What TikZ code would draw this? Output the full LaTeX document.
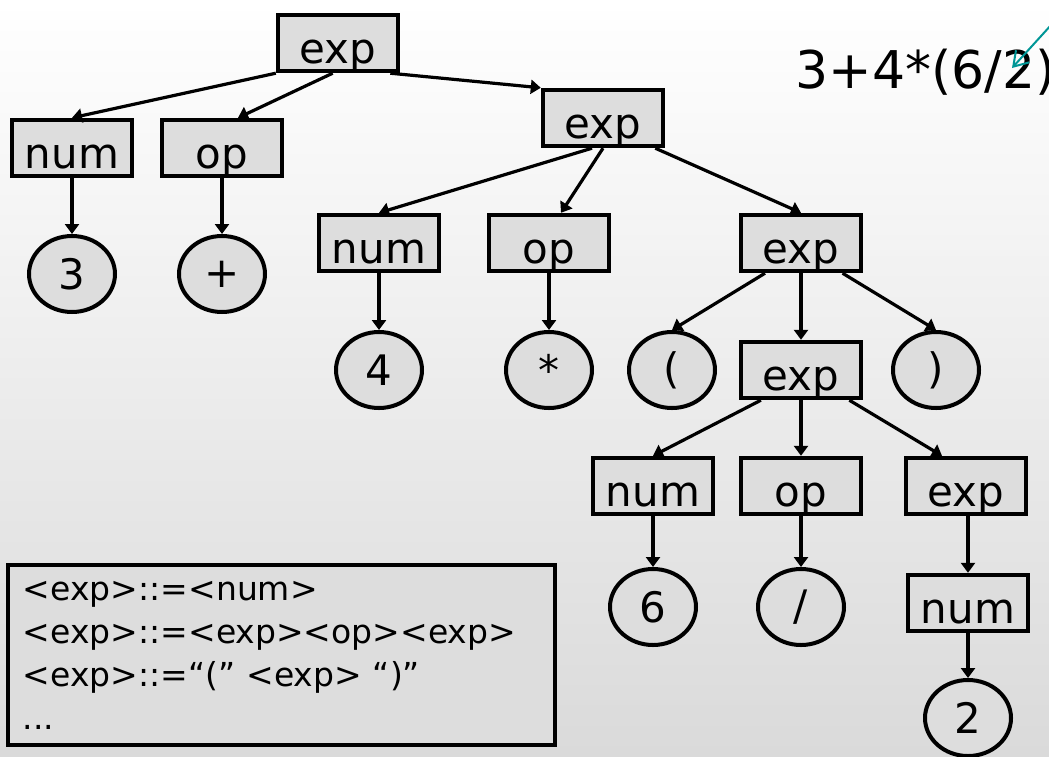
\documentclass[tikz,border=0pt]{standalone}
\usepackage{fontspec}
\setmainfont{DejaVu Sans}
\usetikzlibrary{arrows.meta,shapes.geometric}
\usepackage{xcolor}
\definecolor{ptfill}{RGB}{221,221,221}
\definecolor{ptbg}{RGB}{218,218,218}
\definecolor{ptcyan}{RGB}{0,150,150}

\begin{document}
\begin{tikzpicture}[
  x=0.5pt, y=-0.5pt,
  box/.style={draw=black, fill=ptfill, line width=2.2pt, inner sep=0pt,
    minimum width=60pt, minimum height=28pt, text height=20pt, text depth=0pt,
    font=\fontsize{21}{25}\selectfont},
  leaf/.style={ellipse, draw=black, fill=ptfill, line width=2pt, inner sep=0pt,
    minimum width=43pt, minimum height=38pt, font=\fontsize{21}{25}\selectfont},
  arr/.style={-{Triangle[length=5pt,width=7pt]}, line width=1.6pt},
  gram/.style={draw=black, fill=ptfill, line width=2.2pt, align=left,
    text width=258.5pt, inner xsep=7.5pt, minimum height=90pt,
    font=\fontsize{16.5}{21.5}\selectfont},
  expr/.style={font=\fontsize{26}{30}\selectfont, inner sep=0pt},
  pointer/.style={-{Straight Barb[length=7pt,width=9pt]}, ptcyan, line width=1pt}
]
\useasboundingbox (0,0) rectangle (1049,756);
\clip (0,0) rectangle (1049,756);
\shade[top color=white, bottom color=ptbg] (0,0) rectangle (1049,756);

% parse tree, top down
\node[box] (root) at (338,43) {exp};
\node[box] (num1) at (72,148) {num};
\node[box] (op1) at (222,148) {op};
\node[box] (exp2) at (603,118) {exp};
\node[leaf] (lf3) at (72,274) {3};
\node[leaf] (lfplus) at (222,274) {+};

\node[box] (num2) at (379,243) {num};
\node[box] (op2) at (549,243) {op};
\node[box] (exp3) at (801,243) {exp};
\node[leaf] (lf4) at (379,370) {4};
\node[leaf] (lfstar) at (549,370) {*};
\node[leaf] (lpar) at (672,370) {(};
\node[box] (exp4) at (801,370) {exp};
\node[leaf] (rpar) at (936,370) {)};

\node[box] (num3) at (653,486) {num};
\node[box] (op3) at (801,486) {op};
\node[box] (exp5) at (966,486) {exp};
\node[leaf] (lf6) at (653,607) {6};
\node[leaf] (lfslash) at (801,607) {/};
\node[box] (num4) at (968,603) {num};
\node[leaf] (lf2) at (968,718) {2};

\draw[arr] (root.south west) -- (num1.north);
\draw[arr] (root.-100) -- ([xshift=8pt]op1.north);
\draw[arr] (root.-30) -- (exp2.north west);
\draw[arr] (num1) -- (lf3);
\draw[arr] (op1) -- (lfplus);

\draw[arr] (exp2.-110) -- (num2.north);
\draw[arr] (exp2.south) -- ([xshift=6pt]op2.north);
\draw[arr] (exp2.-30) -- (exp3.north);
\draw[arr] (num2) -- (lf4);
\draw[arr] (op2) -- (lfstar);

\draw[arr] (exp3.-140) -- (lpar.north);
\draw[arr] (exp3) -- (exp4);
\draw[arr] (exp3.-36) -- (rpar.north);

\draw[arr] (exp4.-143) -- (num3.north);
\draw[arr] (exp4) -- (op3);
\draw[arr] (exp4.-32) -- ([xshift=-12pt]exp5.north);
\draw[arr] (num3) -- (lf6);
\draw[arr] (op3) -- (lfslash);
\draw[arr] (exp5.south -| num4) -- (num4);
\draw[arr] (num4) -- (lf2);

% input string and grammar
\node[expr, anchor=base west] (input) at (795,88) {3+4*(6/2)};
\coordinate (ptrfrom) at (1062,13);
\coordinate (ptrto) at (1012,68);
\draw[pointer] (ptrfrom) -- (ptrto);

\node[gram] (rules) at (281.5,655)
  {<exp>::=<num>\\<exp>::=<exp><op><exp>\\<exp>::=“(” <exp> “)”\\...};
\end{tikzpicture}
\end{document}
